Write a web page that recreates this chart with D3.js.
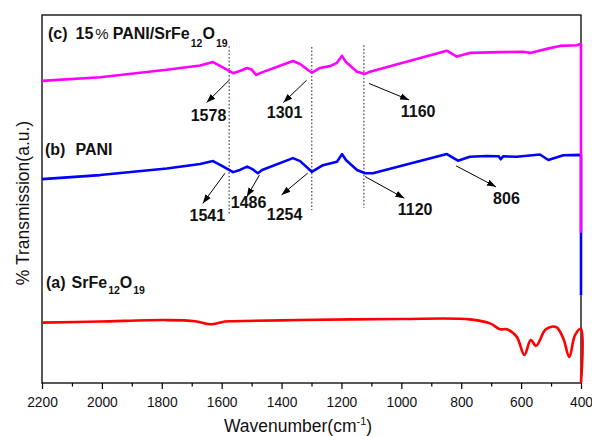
<!DOCTYPE html>
<html>
<head>
<meta charset="utf-8">
<script src="https://cdn.jsdelivr.net/npm/d3@7"></script>
<style>
  body { margin: 0; background: #fff; }
  text { font-family: Arial, "Liberation Sans", sans-serif; }
</style>
</head>
<body>
<div id="chart"></div>
<script>
// (c) 15% PANI/SrFe12O19 spectrum, wavenumber (cm-1) and transmission (a.u.)
let compWn = [2200, 2006, 1783, 1672, 1629, 1599, 1562, 1539, 1515, 1499, 1485, 1472, 1362, 1338, 1299, 1272, 1238, 1215, 1198, 1185, 1148, 1121, 1105, 848, 815, 771, 670, 594, 570, 504, 470, 414, 403, 400, 400];
let compT = [82.1, 83.1, 85.1, 86.3, 87.2, 85.9, 84.2, 84.8, 85.6, 85.1, 83.7, 84.2, 87.5, 86.7, 84.3, 85.6, 86.1, 87.0, 88.9, 87.2, 84.6, 84.0, 84.6, 90.3, 88.7, 89.7, 89.9, 90.0, 89.7, 91.0, 91.6, 91.8, 92.1, 92.1, 40.8];

// (b) PANI
let paniWn = [2200, 2006, 1783, 1672, 1629, 1599, 1562, 1539, 1515, 1499, 1479, 1465, 1362, 1338, 1299, 1262, 1215, 1198, 1185, 1148, 1121, 1095, 848, 811, 771, 715, 675, 668, 660, 615, 537, 509, 459, 400, 400];
let paniT = [55.4, 56.5, 58.3, 59.5, 60.3, 59.0, 57.3, 57.9, 58.8, 58.2, 57.0, 57.9, 61.1, 60.3, 57.4, 59.2, 60.1, 62.2, 60.6, 57.9, 57.0, 57.0, 62.2, 60.4, 61.5, 61.7, 61.6, 60.8, 61.6, 61.5, 62.1, 60.6, 61.9, 62.0, 23.9];

// (a) SrFe12O19
let sfWn = [2200, 2006, 1789, 1689, 1639, 1589, 1562, 1338, 1004, 771, 704, 670, 648, 615, 589, 568, 550, 520, 498, 481, 459, 439, 420, 400, 400];
let sfT = [16.4, 16.7, 17.1, 16.8, 15.95, 16.7, 16.8, 17.1, 17.4, 17.3, 16.2, 14.6, 14.6, 12.6, 7.6, 11.7, 10.1, 14.4, 15.3, 15.1, 12.1, 7.1, 13.0, 14.7, 0];

// dotted guide lines
let guideWn = [1575, 1299, 1125];
let guideTop = [91.5, 91.3, 91.8];
let guideBottom = [45.7, 47.0, 47.6];

// peak annotations
let peakLabels = ["1578", "1301", "1160", "1541", "1486", "1254", "1120", "806"];
let arrowFromWn = [1575, 1316, 1108, 1589, 1474, 1313, 1121, 817];
let arrowFromT = [82.3, 82.3, 81.4, 57.0, 56.5, 57.0, 56.1, 59.0];
let arrowToWn = [1650, 1394, 974, 1663, 1516, 1400, 990, 684];
let arrowToT = [76.2, 76.2, 76.9, 48.8, 50.6, 51.1, 50.2, 53.3];
let labelWn = [1644, 1390, 944, 1648, 1510, 1390, 954, 649];
let labelT = [71.2, 71.9, 72.4, 44.0, 47.5, 44.3, 45.7, 48.6];

let majorTicks = d3.range(400, 2201, 200);
let minorTicks = d3.range(500, 2200, 200);

let margin = { top: 15, right: 11, bottom: 53, left: 42 },
    width = 592 - margin.left - margin.right,
    height = 436 - margin.top - margin.bottom;

let root = d3.select("#chart")
    .append("svg")
    .attr("width", 592)
    .attr("height", 436);

let svg = root.append("g")
    .attr("transform", "translate(" + margin.left + "," + margin.top + ")");

root.append("defs").append("marker")
    .attr("id", "head")
    .attr("markerUnits", "userSpaceOnUse")
    .attr("viewBox", "0 -4 9 8")
    .attr("refX", 9)
    .attr("refY", 0)
    .attr("markerWidth", 9)
    .attr("markerHeight", 8)
    .attr("orient", "auto")
    .append("path")
    .attr("d", "M0,-3.2L9,0L0,3.2Z")
    .attr("fill", "#000");

let x = d3.scaleLinear().domain([2200, 400]).range([0, width]);
let y = d3.scaleLinear().domain([0, 100]).range([height, 0]);

// x axis, major and minor ticks
svg.append("g")
    .attr("transform", "translate(0," + height + ")")
    .call(d3.axisBottom(x).tickValues(minorTicks).tickSize(3.5).tickSizeOuter(0).tickFormat(""))
    .call(g => g.select(".domain").remove())
    .selectAll("line").attr("stroke", "#000").attr("stroke-width", 1.2);

let xAxis = svg.append("g")
    .attr("transform", "translate(0," + height + ")")
    .call(d3.axisBottom(x).tickValues(majorTicks).tickSize(6).tickSizeOuter(0).tickPadding(8).tickFormat(d3.format("d")));
xAxis.selectAll("line").attr("stroke", "#000").attr("stroke-width", 1.2);
xAxis.select(".domain").remove();
xAxis.selectAll("text")
    .attr("fill", "#111")
    .style("font-size", "13.8px")
    .style("font-family", "Arial, 'Liberation Sans', sans-serif");

// frame
svg.append("rect")
    .attr("width", width)
    .attr("height", height)
    .attr("fill", "none")
    .attr("stroke", "#000")
    .attr("stroke-width", 1.3);

// dotted guides
svg.selectAll(".guide")
    .data(guideWn)
    .enter()
    .append("line")
    .attr("x1", d => x(d))
    .attr("x2", d => x(d))
    .attr("y1", (d, i) => y(guideTop[i]))
    .attr("y2", (d, i) => y(guideBottom[i]))
    .attr("stroke", "#222")
    .attr("stroke-width", 1)
    .attr("stroke-dasharray", "1.6,2");

// spectra
function pts(wn, t) { return wn.map((d, i) => [d, t[i]]); }

let line = d3.line().x(d => x(d[0])).y(d => y(d[1]));

svg.append("path")
    .datum(pts(sfWn, sfT))
    .attr("fill", "none")
    .attr("stroke", "#ff0000")
    .attr("stroke-width", 2.6)
    .attr("stroke-linejoin", "round")
    .attr("d", line.curve(d3.curveCatmullRom.alpha(0.5)));

svg.append("path")
    .datum(pts(paniWn, paniT))
    .attr("fill", "none")
    .attr("stroke", "#0000ff")
    .attr("stroke-width", 2.6)
    .attr("stroke-linejoin", "round")
    .attr("d", line.curve(d3.curveLinear));

svg.append("path")
    .datum(pts(compWn, compT))
    .attr("fill", "none")
    .attr("stroke", "#ff00ff")
    .attr("stroke-width", 2.6)
    .attr("stroke-linejoin", "round")
    .attr("d", line.curve(d3.curveLinear));

// arrows and peak labels
svg.selectAll(".arrow")
    .data(peakLabels)
    .enter()
    .append("line")
    .attr("x1", (d, i) => x(arrowFromWn[i]))
    .attr("y1", (d, i) => y(arrowFromT[i]))
    .attr("x2", (d, i) => x(arrowToWn[i]))
    .attr("y2", (d, i) => y(arrowToT[i]))
    .attr("stroke", "#000")
    .attr("stroke-width", 1)
    .attr("marker-end", "url(#head)");

svg.selectAll(".peak")
    .data(peakLabels)
    .enter()
    .append("text")
    .attr("x", (d, i) => x(labelWn[i]))
    .attr("y", (d, i) => y(labelT[i]))
    .attr("text-anchor", "middle")
    .style("font-size", "16px")
    .style("font-weight", "bold")
    .attr("fill", "#111")
    .text(d => d);

// series labels
let lc = svg.append("text")
    .attr("x", 6).attr("y", 24)
    .style("font-size", "16px").style("font-weight", "bold").attr("fill", "#111");
lc.append("tspan").text("(c)");
lc.append("tspan").attr("dx", 8).text("15");
lc.append("tspan").style("font-weight", "normal").style("font-size", "15px").attr("dx", 2).text("%");
lc.append("tspan").attr("dx", 4).text("PANI/SrFe");
lc.append("tspan").attr("dy", 7.5).attr("dx", 1).style("font-size", "10.5px").text("12");
lc.append("tspan").attr("dy", -7.5).text("O");
lc.append("tspan").attr("dy", 7.5).attr("dx", 1).style("font-size", "10.5px").text("19");

let lb = svg.append("text")
    .attr("x", 3).attr("y", 140)
    .style("font-size", "16px").style("font-weight", "bold").attr("fill", "#111");
lb.append("tspan").text("(b)");
lb.append("tspan").attr("dx", 10).text("PANI");

let la = svg.append("text")
    .attr("x", 4).attr("y", 272.5)
    .style("font-size", "16px").style("font-weight", "bold").attr("fill", "#111");
la.append("tspan").text("(a)");
la.append("tspan").attr("dx", 6).text("SrFe");
la.append("tspan").attr("dy", 6.5).attr("dx", 1).style("font-size", "10.5px").text("12");
la.append("tspan").attr("dy", -6.5).text("O");
la.append("tspan").attr("dy", 6.5).attr("dx", 1).style("font-size", "10.5px").text("19");

// axis titles
let xt = root.append("text")
    .attr("x", 298).attr("y", 432)
    .attr("text-anchor", "middle")
    .style("font-size", "17.5px").attr("fill", "#111");
xt.append("tspan").text("Wavenumber(cm");
xt.append("tspan").attr("dy", -7).style("font-size", "11px").text("-1");
xt.append("tspan").attr("dy", 7).text(")");

root.append("text")
    .attr("transform", "translate(28.5,203)rotate(-90)")
    .attr("text-anchor", "middle")
    .style("font-size", "17.5px").attr("fill", "#111")
    .text("% Transmission(a.u.)");
</script>
</body>
</html>
